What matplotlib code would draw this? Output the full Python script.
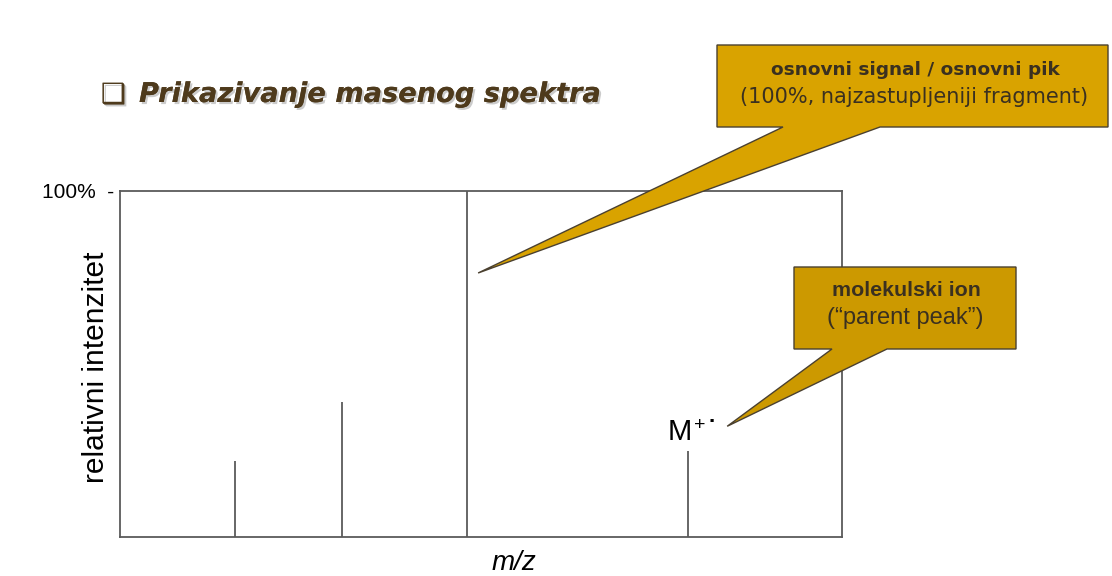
import matplotlib
matplotlib.use("Agg")
import matplotlib.pyplot as plt
import matplotlib.patheffects as pe
from matplotlib.patches import Polygon

# peak positions (arbitrary m/z units) and relative intensities (%)
mz = [15.9, 30.7, 48.1, 78.7]
intensity = [22, 39, 100, 25]

title = "Prikazivanje masenog spektra"
ylabel = "relativni intenzitet"
xlabel = "m/z"
base_title = "osnovni signal / osnovni pik"
base_sub = "(100%, najzastupljeniji fragment)"
mol_title = "molekulski ion"
mol_sub = "(\u201cparent peak\u201d)"

W, H = 1112, 576
fig = plt.figure(figsize=(W / 100, H / 100), dpi=100)

def fx(px):
    return px / W

def fy(py):
    return 1 - py / H

ax = fig.add_axes([fx(120), fy(537), fx(842) - fx(120), fy(191) - fy(537)])
ax.set_xlim(0, 100)
ax.set_ylim(0, 100)

line_col = "#5a5a5a"
ax.vlines(mz, 0, intensity, color=line_col, lw=1.3)
for s in ax.spines.values():
    s.set_color(line_col)
    s.set_linewidth(1.3)

ax.set_xticks([])
ax.set_yticks([100])
ax.set_yticklabels(["100%  -"], fontsize=15, family="Liberation Sans")
ax.tick_params(axis="y", length=0, pad=4)
ax.set_ylabel(ylabel, fontsize=21.5, family="Liberation Sans")
ax.yaxis.set_label_coords(-0.014, 0.49)
ax.set_xlabel(xlabel, fontsize=20, family="Liberation Sans", style="italic")
ax.xaxis.set_label_coords(0.546, -0.038)

# molecular ion label, placed relative to its peak
ax.annotate("M", (mz[3], intensity[3]), xytext=(-8, 10), textcoords="offset pixels",
            fontsize=21, family="Liberation Sans", ha="center", va="baseline")
ax.annotate("+", (mz[3], intensity[3]), xytext=(12, 20), textcoords="offset pixels",
            fontsize=14, family="Liberation Sans", ha="center", va="baseline")
ax.annotate("\u00b7", (mz[3], intensity[3]), xytext=(24, 23), textcoords="offset pixels",
            fontsize=16, weight="bold", family="Liberation Sans", ha="center", va="baseline")

# title with shadow
shadow = [pe.withSimplePatchShadow(offset=(1.5, -1.5), shadow_rgbFace="#999999", alpha=0.5),
          pe.Normal()]
title_col = "#4e3a1c"
fig.text(fx(101), fy(95), "\u2751", fontsize=20, color=title_col, family="DejaVu Sans",
         va="center", ha="left", path_effects=shadow)
fig.text(fx(139), fy(95), title, fontsize=19.6, color=title_col, weight="bold",
         style="italic", family="DejaVu Sans", va="center", ha="left", path_effects=shadow)

def callout(box, base, tip, color):
    x0, y0, x1, y1 = box
    b0, b1 = base
    tx, ty = ax.transData.transform(tip)
    tip_fig = fig.transFigure.inverted().transform((tx, ty))
    pts = [(fx(x0), fy(y0)), (fx(x1), fy(y0)), (fx(x1), fy(y1)), (fx(b1), fy(y1)),
           tuple(tip_fig), (fx(b0), fy(y1)), (fx(x0), fy(y1))]
    poly = Polygon(pts, closed=True, transform=fig.transFigure, facecolor=color,
                   edgecolor="#4a4030", lw=1.0, zorder=5)
    fig.add_artist(poly)

callout((717, 45, 1108, 127), (783, 880), (49.6, 76.3), "#D9A300")
callout((794, 267, 1016, 349), (832, 887), (84.1, 32.0), "#CC9900")

txt_col = "#3a3020"
fig.text(fx(915), fy(70), base_title, fontsize=13.3, weight="bold", color=txt_col,
         family="DejaVu Sans", ha="center", va="center", zorder=6)
fig.text(fx(914), fy(97), base_sub, fontsize=15, color=txt_col,
         family="DejaVu Sans", ha="center", va="center", zorder=6)
fig.text(fx(906), fy(291), mol_title, fontsize=15.4, weight="bold", color=txt_col,
         family="Liberation Sans", ha="center", va="center", zorder=6)
fig.text(fx(905), fy(318), mol_sub, fontsize=17, color=txt_col,
         family="Liberation Sans", ha="center", va="center", zorder=6)

fig.savefig("out.png", dpi=100)
